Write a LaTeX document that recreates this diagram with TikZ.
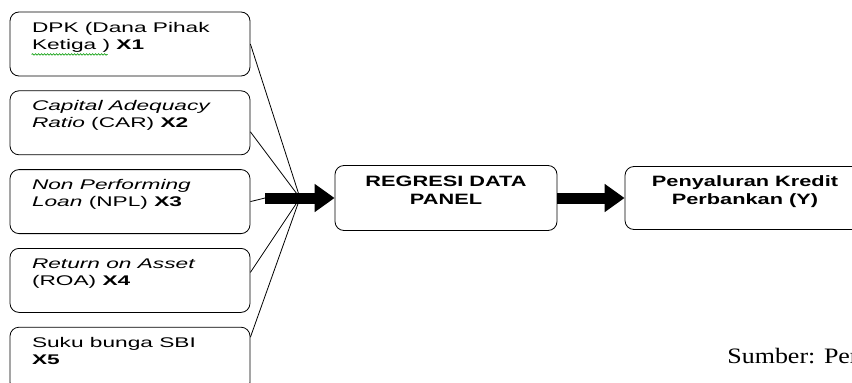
\documentclass[tikz,border=0pt]{standalone}
\usepackage{fontspec}
\setmainfont{Liberation Sans}[FakeStretch=1.45]
\newfontfamily\varfont{Liberation Sans}[FakeStretch=1.62]
\newfontfamily\sumberfont{Liberation Serif}[FakeStretch=1.18]
\usetikzlibrary{positioning, arrows.meta, decorations.pathmorphing}

\tikzset{
  varbox/.style={draw, line width=0.8pt, rounded corners=9pt, minimum width=240pt,
                 minimum height=64pt, inner sep=0pt},
  vartext/.style={anchor=north west, align=left, inner sep=0pt,
                  font=\varfont\fontsize{14}{17}\selectfont},
  boldtext/.style={anchor=north, align=center, inner sep=0pt,
                   font=\bfseries\fontsize{15}{18}\selectfont},
  bigarrow/.style={line width=11pt, -{Triangle[length=20pt, width=27pt]}},
}

\begin{document}
\begin{tikzpicture}[x=1pt, y=-1pt, line width=0.8pt]
\useasboundingbox (0,0) rectangle (852,383);
\clip (0,0) rectangle (852,383);

% variabel bebas
\node[varbox] (x1) at (130,44) {};
\node[varbox, below=14pt of x1] (x2) {};
\node[varbox, below=14pt of x2] (x3) {};
\node[varbox, below=14pt of x3] (x4) {};
\node[varbox, below=14pt of x4] (x5) {};

\node[vartext] (t1) at ([xshift=22pt, yshift=-10pt]x1.north west)
  {DPK (Dana Pihak\\Ketiga ) \textbf{X1}};
\node[vartext] (t2) at ([xshift=22pt, yshift=-10pt]x2.north west)
  {\textit{Capital Adequacy}\\\textit{Ratio} (CAR) \textbf{X2}};
\node[vartext] (t3) at ([xshift=22pt, yshift=-10pt]x3.north west)
  {\textit{Non Performing}\\\textit{Loan} (NPL) \textbf{X3}};
\node[vartext] (t4) at ([xshift=22pt, yshift=-10pt]x4.north west)
  {\textit{Return on Asset}\\(ROA) \textbf{X4}};
\node[vartext] (t5) at ([xshift=22pt, yshift=-10pt]x5.north west)
  {Suku bunga SBI\\\textbf{X5}};
\draw[green!60!black, line width=0.6pt, decorate,
      decoration={snake, amplitude=0.8pt, segment length=3pt}]
  ([yshift=-2pt]t1.south west) -- ([xshift=76pt, yshift=-2pt]t1.south west);

% regresi dan hasil
\node[draw, rounded corners=9pt, minimum width=222pt, minimum height=65pt]
  (reg) at (446,198) {};
\node[boldtext] at ([yshift=-11pt]reg.north) {REGRESI DATA\\PANEL};
\node[draw, rounded corners=9pt, minimum width=240pt, minimum height=63pt]
  (kredit) at (745,198) {};
\node[boldtext] at ([yshift=-9pt]kredit.north) {Penyaluran Kredit\\Perbankan (Y)};

% garis ke panah
\coordinate (hub) at (300,198);
\coordinate (arrstart) at (265,198);
\draw (x1.east) -- (hub);
\draw ([yshift=-9pt]x2.east) -- (hub);
\draw (x3.east) -- (arrstart);
\draw ([yshift=8pt]x4.east) -- (hub);
\draw ([yshift=22pt]x5.east) -- (hub);
\draw[bigarrow] (arrstart) -- (reg.west);
\draw[bigarrow] (reg.east) -- (kredit.west);

\node[anchor=base west, inner sep=0pt, font=\sumberfont\fontsize{22}{26}\selectfont]
  (sumber) at (727,363) {Sumber: Per};
\end{tikzpicture}
\end{document}
